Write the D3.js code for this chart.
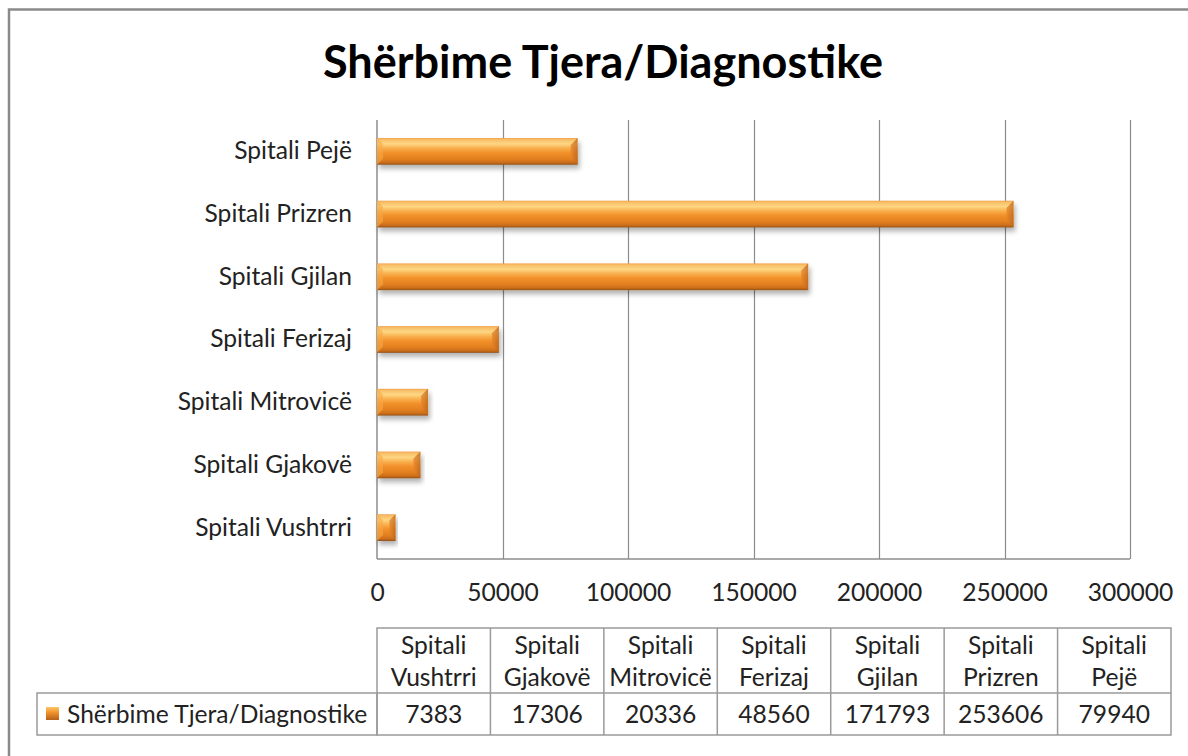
<!DOCTYPE html>
<html>
<head>
<meta charset="utf-8">
<script src="https://cdn.jsdelivr.net/npm/d3@7"></script>
<style>
  html, body { margin: 0; padding: 0; background: #fff; }
  svg { display: block; }
  text { font-family: Lato, "Open Sans", sans-serif; fill: #222; }
</style>
</head>
<body>
<svg id="chart" width="1188" height="756"></svg>
<script>
const title = "Shërbime Tjera/Diagnostike";
const seriesName = "Shërbime Tjera/Diagnostike";
const categories = ["Spitali Vushtrri", "Spitali Gjakovë", "Spitali Mitrovicë", "Spitali Ferizaj", "Spitali Gjilan", "Spitali Prizren", "Spitali Pejë"];
const headerLines = [["Spitali", "Vushtrri"], ["Spitali", "Gjakovë"], ["Spitali", "Mitrovicë"], ["Spitali", "Ferizaj"], ["Spitali", "Gjilan"], ["Spitali", "Prizren"], ["Spitali", "Pejë"]];
const values = [7383, 17306, 20336, 48560, 171793, 253606, 79940];
const xTicks = [0, 50000, 100000, 150000, 200000, 250000, 300000];

const svg = d3.select("#chart");
const W = 1188, H = 756;
const FS = "24.6px";

// layout
const plot = { left: 377, right: 1130, top: 120, bottom: 559 };
const table = { left: 377, right: 1171, top: 628, mid: 693, bottom: 735, labelLeft: 37 };

// defs
const defs = svg.append("defs");
const grad = defs.append("linearGradient").attr("id", "barGrad").attr("x1", 0).attr("y1", 0).attr("x2", 0).attr("y2", 1);
[[0, "#f2a048"], [0.06, "#f8bf68"], [0.22, "#fdd683"], [0.38, "#f9b04e"], [0.55, "#f2912a"], [0.8, "#e17e1f"], [0.93, "#c86b1a"], [1, "#8e4e16"]]
  .forEach(([o, c]) => grad.append("stop").attr("offset", o).attr("stop-color", c));
const endGrad = defs.append("linearGradient").attr("id", "endGrad").attr("x1", 0).attr("y1", 0).attr("x2", 1).attr("y2", 0);
[[0, "#e8852a"], [1, "#b9641c"]].forEach(([o, c]) => endGrad.append("stop").attr("offset", o).attr("stop-color", c));
const keyGrad = defs.append("linearGradient").attr("id", "keyGrad").attr("x1", 0).attr("y1", 0).attr("x2", 0).attr("y2", 1);
[[0, "#fbc66a"], [0.4, "#f2942e"], [1, "#b5601a"]].forEach(([o, c]) => keyGrad.append("stop").attr("offset", o).attr("stop-color", c));
const shadow = defs.append("filter").attr("id", "shadow").attr("x", "-10%").attr("y", "-30%").attr("width", "120%").attr("height", "180%");
shadow.append("feDropShadow").attr("dx", 2).attr("dy", 4).attr("stdDeviation", 2.5).attr("flood-color", "#000").attr("flood-opacity", 0.3);

// background & outer border
svg.append("rect").attr("x", 0).attr("y", 0).attr("width", W).attr("height", H).attr("fill", "#fff");
svg.append("rect").attr("x", 9).attr("y", 9.5).attr("width", W + 20).attr("height", H + 20)
  .attr("fill", "none").attr("stroke", "#8a8a8a").attr("stroke-width", 2.5);

// title
svg.append("text").attr("x", 603).attr("y", 78).attr("text-anchor", "middle")
  .style("font-size", "45px").style("font-weight", "bold").style("fill", "#000").text(title);

// scales
const x = d3.scaleLinear().domain([0, 300000]).range([plot.left, plot.right]);
const y = d3.scaleBand().domain(categories.slice().reverse()).range([plot.top, plot.bottom])
  .paddingInner(0.574).paddingOuter(0.287);

// gridlines
svg.append("g").selectAll("line").data(xTicks.slice(1)).join("line")
  .attr("x1", d => Math.round(x(d)) + 0.5).attr("x2", d => Math.round(x(d)) + 0.5)
  .attr("y1", plot.top).attr("y2", plot.bottom)
  .attr("stroke", "#8c8c8c").attr("stroke-width", 1.2);

// axis lines
svg.append("line").attr("x1", plot.left).attr("x2", plot.left).attr("y1", plot.top).attr("y2", plot.bottom)
  .attr("stroke", "#8c8c8c").attr("stroke-width", 1.5);
svg.append("line").attr("x1", plot.left).attr("x2", plot.right).attr("y1", plot.bottom).attr("y2", plot.bottom)
  .attr("stroke", "#8c8c8c").attr("stroke-width", 1.5);

// x axis labels via d3 axis
const xAxis = d3.axisBottom(x).tickValues(xTicks).tickSize(0).tickPadding(0).tickFormat(d3.format("d"));
const gx = svg.append("g").attr("transform", `translate(0,${plot.bottom + 25})`).call(xAxis);
gx.select(".domain").remove();
gx.selectAll("text").style("font-size", FS).style("font-family", "Lato, sans-serif").style("fill", "#222");

// y axis labels via d3 axis
const yAxis = d3.axisLeft(y).tickSize(0).tickPadding(25);
const gy = svg.append("g").attr("transform", `translate(${plot.left},0)`).call(yAxis);
gy.select(".domain").remove();
gy.selectAll("text").style("font-size", FS).style("font-family", "Lato, sans-serif").style("fill", "#222");

// bars
const bars = svg.append("g").selectAll("g").data(categories.map((c, i) => ({ c, v: values[i] }))).join("g");
bars.append("rect")
  .attr("x", x(0)).attr("y", d => y(d.c)).attr("width", d => x(d.v) - x(0)).attr("height", y.bandwidth())
  .attr("fill", "url(#barGrad)").attr("filter", "url(#shadow)");
// bevel at right end
bars.append("path")
  .attr("d", d => {
    const x1 = x(d.v), y0 = y(d.c), h = y.bandwidth(), b = Math.min(7, (x1 - x(0)) / 3);
    return `M${x1 - b},${y0 + b}L${x1},${y0}L${x1},${y0 + h}L${x1 - b},${y0 + h - b}Z`;
  })
  .attr("fill", "url(#endGrad)").attr("opacity", 0.75);
// bevel at left end
bars.append("path")
  .attr("d", d => {
    const x0 = x(0), y0 = y(d.c), h = y.bandwidth(), b = Math.min(6, (x(d.v) - x0) / 3);
    return `M${x0},${y0}L${x0 + b},${y0 + b}L${x0 + b},${y0 + h - b}L${x0},${y0 + h}Z`;
  })
  .attr("fill", "#f7a948").attr("opacity", 0.6);

// data table
const tg = svg.append("g");
const colW = (table.right - table.left) / categories.length;
const colX = i => table.left + i * colW;
const stroke = "#9a9a9a";
tg.append("rect").attr("x", table.left).attr("y", table.top).attr("width", table.right - table.left)
  .attr("height", table.bottom - table.top).attr("fill", "none").attr("stroke", stroke).attr("stroke-width", 1.5);
tg.append("rect").attr("x", table.labelLeft).attr("y", table.mid).attr("width", table.left - table.labelLeft)
  .attr("height", table.bottom - table.mid).attr("fill", "none").attr("stroke", stroke).attr("stroke-width", 1.5);
tg.append("line").attr("x1", table.left).attr("x2", table.right).attr("y1", table.mid).attr("y2", table.mid)
  .attr("stroke", stroke).attr("stroke-width", 1.5);
tg.selectAll(".vline").data(d3.range(1, categories.length)).join("line").attr("class", "vline")
  .attr("x1", i => colX(i)).attr("x2", i => colX(i)).attr("y1", table.top).attr("y2", table.bottom)
  .attr("stroke", stroke).attr("stroke-width", 1.5);

// header text
const hdr = tg.selectAll(".hdr").data(headerLines).join("text").attr("class", "hdr")
  .attr("text-anchor", "middle").style("font-size", FS);
hdr.selectAll("tspan").data((d, i) => d.map(t => ({ t, i }))).join("tspan")
  .attr("x", d => colX(d.i) + colW / 2).attr("y", (d, j) => 654 + j * 32).text(d => d.t);

// values text
tg.selectAll(".val").data(values).join("text").attr("class", "val")
  .attr("x", (d, i) => colX(i) + colW / 2).attr("y", 723).attr("text-anchor", "middle")
  .style("font-size", FS).text(d => d);

// legend key + series name
tg.append("rect").attr("x", 46).attr("y", 707).attr("width", 13).attr("height", 13).attr("fill", "url(#keyGrad)");
tg.append("text").attr("x", 67).attr("y", 723).style("font-size", FS).text(seriesName);
</script>
</body>
</html>
